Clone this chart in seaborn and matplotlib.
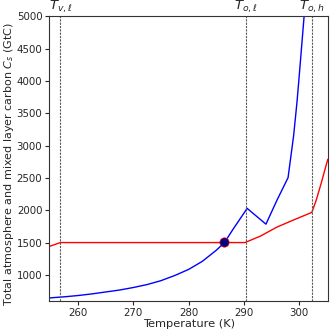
import numpy as np
import pandas as pd
import seaborn as sns
import matplotlib.pyplot as plt
from matplotlib import transforms

# blue curve
blue_T = [254.8, 257.5, 260, 262.5, 265, 267.5, 270, 272.5, 275, 277.5, 280, 282.5,
          285, 286.5, 288, 289.5, 290.6, 294.0, 296.0, 298.0, 299.0, 299.6, 300.0, 300.9, 301.2]
blue_C = [643, 660, 680, 705, 735, 765, 804, 850, 910, 990, 1084, 1210,
          1380, 1500, 1700, 1890, 2029, 1785, 2157, 2505, 3150, 3660, 4060, 5000, 5400]

# red curve
red_T = [254.8, 256.8, 290.2, 293, 296, 299, 302.3, 303.1, 304, 304.9, 305.2]
red_C = [1440, 1500, 1500, 1600, 1740, 1850, 1967, 2157, 2420, 2700, 2790]

# threshold temperatures
thr_T = [256.8, 290.3, 302.4]
thr_labels = [r'$T_{v,\ell}$', r'$T_{o,\ell}$', r'$T_{o,h}$']

eq_T = [286.5]
eq_C = [1502]

sns.set_style('ticks')
plt.rcParams['font.family'] = ['DejaVu Sans']

fig = plt.figure(figsize=(3.32, 3.33), dpi=100)
ax = fig.add_axes([0.1485, 0.097, 0.839, 0.8535])

blue = pd.DataFrame({'T': blue_T, 'C': blue_C})
red = pd.DataFrame({'T': red_T, 'C': red_C})
sns.lineplot(data=blue, x='T', y='C', color='blue', lw=1, sort=False, estimator=None, ax=ax)
sns.lineplot(data=red, x='T', y='C', color='red', lw=1, sort=False, estimator=None, ax=ax)

trans = transforms.blended_transform_factory(ax.transData, ax.transAxes)
for t, lab in zip(thr_T, thr_labels):
    ax.axvline(t, color='0.35', lw=0.8, ls=(0, (2, 1)))
    ax.text(t, 1.005, lab, transform=trans, ha='center', va='bottom', fontsize=9.5)

sns.scatterplot(x=eq_T, y=eq_C, color='navy', edgecolor='red', linewidth=0.5,
                s=45, zorder=5, ax=ax)

ax.set_xlim(254.8, 305.2)
ax.set_ylim(600, 5000)
ax.set_xticks([260, 270, 280, 290, 300])
ax.set_yticks(np.arange(1000, 5001, 500))
ax.tick_params(labelsize=7.4, length=3, width=0.8, pad=2)
ax.set_xlabel('Temperature (K)', fontsize=8.2, labelpad=1)
ax.set_ylabel(r'Total atmosphere and mixed layer carbon $C_s$ (GtC)', fontsize=8.0)
ax.yaxis.set_label_coords(-0.118, 0.481)
for s in ax.spines.values():
    s.set_linewidth(0.8)
    s.set_color('0.2')

fig.savefig('out.png', dpi=100)
